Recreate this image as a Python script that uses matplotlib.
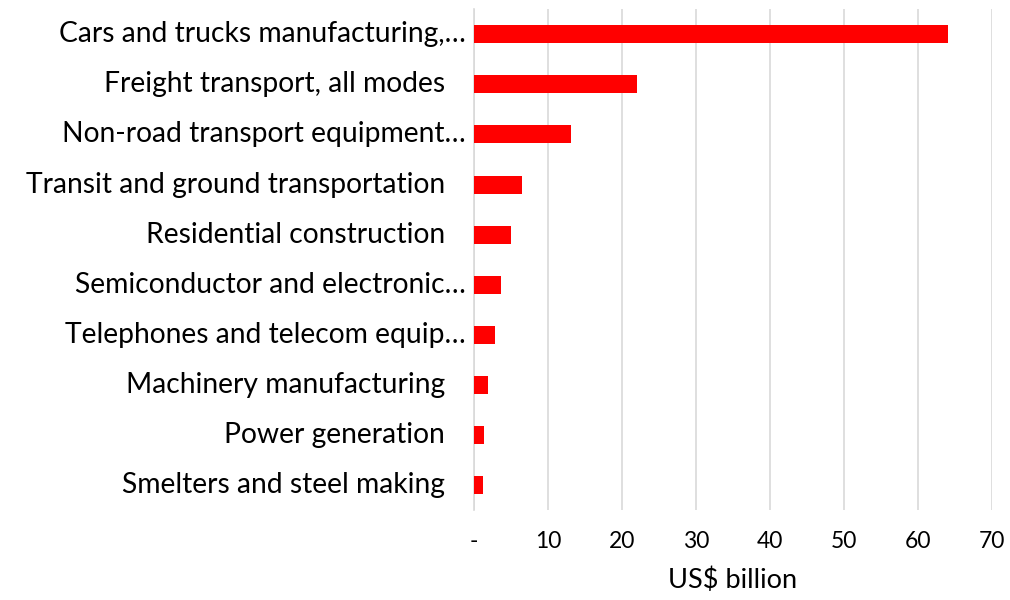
import matplotlib
matplotlib.use("Agg")
import matplotlib.pyplot as plt

categories = [
    "Cars and trucks manufacturing,…",
    "Freight transport, all modes",
    "Non-road transport equipment…",
    "Transit and ground transportation",
    "Residential construction",
    "Semiconductor and electronic…",
    "Telephones and telecom equip…",
    "Machinery manufacturing",
    "Power generation",
    "Smelters and steel making",
]
values = [64.1, 22.1, 13.1, 6.5, 5.0, 3.6, 2.9, 1.9, 1.4, 1.25]
x_ticks = [0, 10, 20, 30, 40, 50, 60, 70]
x_tick_labels = ["-", "10", "20", "30", "40", "50", "60", "70"]

plt.rcParams["font.family"] = ["Lato", "DejaVu Sans"]

fig = plt.figure(figsize=(10.1, 6.0), dpi=100)
ax = fig.add_axes([0.4693, 0.15, 0.5126, 0.8345])

ypos = list(range(len(categories)))
ax.barh(ypos, values, height=0.36, color="#ff0000", zorder=3)

ax.set_xlim(0, 70)
ax.set_ylim(len(categories) - 0.5, -0.5)

ax.set_xticks(x_ticks)
ax.set_xticklabels(x_tick_labels, fontsize=16.5)
ax.tick_params(axis="x", length=0, pad=15)
ax.set_xlabel("US$ billion", fontsize=19.5, labelpad=11)

ax.set_yticks(ypos)
ax.set_yticklabels([])
ax.tick_params(axis="y", length=0)
trans = ax.get_yaxis_transform()
for y, name in zip(ypos, categories):
    # truncated names sit closer to the axis than the full ones
    offset = -0.016 if name.endswith("…") else -0.056
    ax.text(offset, y, name, transform=trans, ha="right", va="center",
            fontsize=20.3, color="#000000")

ax.grid(axis="x", color="#d9d9d9", linewidth=1.2, zorder=0)
for side in ["top", "right", "bottom"]:
    ax.spines[side].set_visible(False)
ax.spines["left"].set_color("#d9d9d9")
ax.spines["left"].set_linewidth(1.2)

fig.savefig("out.png", dpi=100)
